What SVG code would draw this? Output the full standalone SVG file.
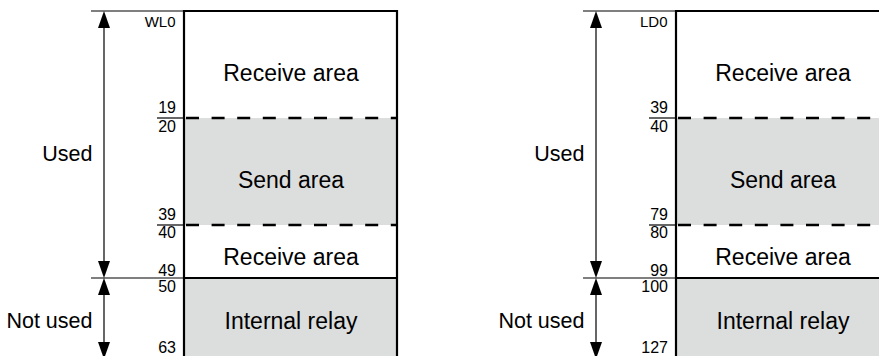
<svg xmlns="http://www.w3.org/2000/svg" width="879" height="356" viewBox="0 0 879 356">
<defs>
<style>
.bg{fill:#ffffff}
.gray{fill:#dcdddd;stroke:none}
.box{fill:none;stroke:#000;stroke-width:2.2}
.thick{stroke:#000;stroke-width:2.2;fill:none}
.dash{stroke:#000;stroke-width:2.4;stroke-dasharray:13 12.6;fill:none}
.thin{stroke:#000;stroke-width:1.2;fill:none}
.head{fill:#000;stroke:none}
text{font-family:"Liberation Sans",Arial,sans-serif;fill:#000}
.num{font-size:16px;text-anchor:end}
.addr{font-size:15px;text-anchor:end}
.area{font-size:23px;text-anchor:middle}
.side{font-size:21.5px;text-anchor:end}
</style>
<g id="arrowUp"><polygon class="head" points="0,0 6,17 -6,17"/></g>
<g id="arrowDown"><polygon class="head" points="0,0 6,-17 -6,-17"/></g>
</defs>
<rect class="bg" x="0" y="0" width="879" height="356"/>

<g id="left">
  <g id="left-recv1">
    <text class="addr" x="175.5" y="27">WL0</text>
    <text class="area" x="291" y="81">Receive area</text>
    <text class="num" x="176" y="113">19</text>
  </g>
  <g id="left-send">
    <rect class="gray" x="184" y="118" width="213" height="107"/>
    <text class="num" x="176" y="131.5">20</text>
    <text class="area" x="291" y="187.5">Send area</text>
    <text class="num" x="176" y="220">39</text>
  </g>
  <g id="left-recv2">
    <text class="num" x="176" y="238">40</text>
    <text class="area" x="291" y="265">Receive area</text>
    <text class="num" x="176" y="276">49</text>
  </g>
  <g id="left-relay">
    <rect class="gray" x="184" y="278" width="213" height="80"/>
    <text class="num" x="176" y="292">50</text>
    <text class="area" x="291" y="329">Internal relay</text>
    <text class="num" x="176" y="353">63</text>
  </g>
  <g id="left-frame">
    <path class="dash" d="M186,118 H397"/>
    <path class="dash" d="M186,225 H397"/>
    <path class="thick" d="M184,278 H397"/>
    <path class="box" d="M184,360 V11 H397 V360"/>
  </g>
  <g id="left-used">
    <text class="side" x="92.5" y="161">Used</text>
  </g>
  <g id="left-notused">
    <text class="side" x="92.5" y="328">Not used</text>
  </g>
  <g id="left-connectors">
    <path class="thin" d="M91,11 H184"/>
    <path class="thin" d="M91,278 H184"/>
    <path class="thin" d="M157,118 H184"/>
    <path class="thin" d="M157,225 H184"/>
    <path class="thin" d="M104,20 V270"/>
    <path class="thin" d="M104,285 V350"/>
    <use href="#arrowUp" x="104" y="11"/>
    <use href="#arrowDown" x="104" y="278"/>
    <use href="#arrowUp" x="104" y="278"/>
    <use href="#arrowDown" x="104" y="359"/>
  </g>
</g>

<g id="right">
  <g id="right-recv1">
    <text class="addr" x="667.5" y="27">LD0</text>
    <text class="area" x="783" y="81">Receive area</text>
    <text class="num" x="668" y="113">39</text>
  </g>
  <g id="right-send">
    <rect class="gray" x="676" y="118" width="213" height="107"/>
    <text class="num" x="668" y="131.5">40</text>
    <text class="area" x="783" y="187.5">Send area</text>
    <text class="num" x="668" y="220">79</text>
  </g>
  <g id="right-recv2">
    <text class="num" x="668" y="238">80</text>
    <text class="area" x="783" y="265">Receive area</text>
    <text class="num" x="668" y="276">99</text>
  </g>
  <g id="right-relay">
    <rect class="gray" x="676" y="278" width="213" height="80"/>
    <text class="num" x="668" y="292">100</text>
    <text class="area" x="783" y="329">Internal relay</text>
    <text class="num" x="668" y="353">127</text>
  </g>
  <g id="right-frame">
    <path class="dash" d="M678,118 H889"/>
    <path class="dash" d="M678,225 H889"/>
    <path class="thick" d="M676,278 H889"/>
    <path class="box" d="M676,360 V11 H889 V360"/>
  </g>
  <g id="right-used">
    <text class="side" x="584.5" y="161">Used</text>
  </g>
  <g id="right-notused">
    <text class="side" x="584.5" y="328">Not used</text>
  </g>
  <g id="right-connectors">
    <path class="thin" d="M583,11 H676"/>
    <path class="thin" d="M583,278 H676"/>
    <path class="thin" d="M649,118 H676"/>
    <path class="thin" d="M649,225 H676"/>
    <path class="thin" d="M596,20 V270"/>
    <path class="thin" d="M596,285 V350"/>
    <use href="#arrowUp" x="596" y="11"/>
    <use href="#arrowDown" x="596" y="278"/>
    <use href="#arrowUp" x="596" y="278"/>
    <use href="#arrowDown" x="596" y="359"/>
  </g>
</g>
</svg>
